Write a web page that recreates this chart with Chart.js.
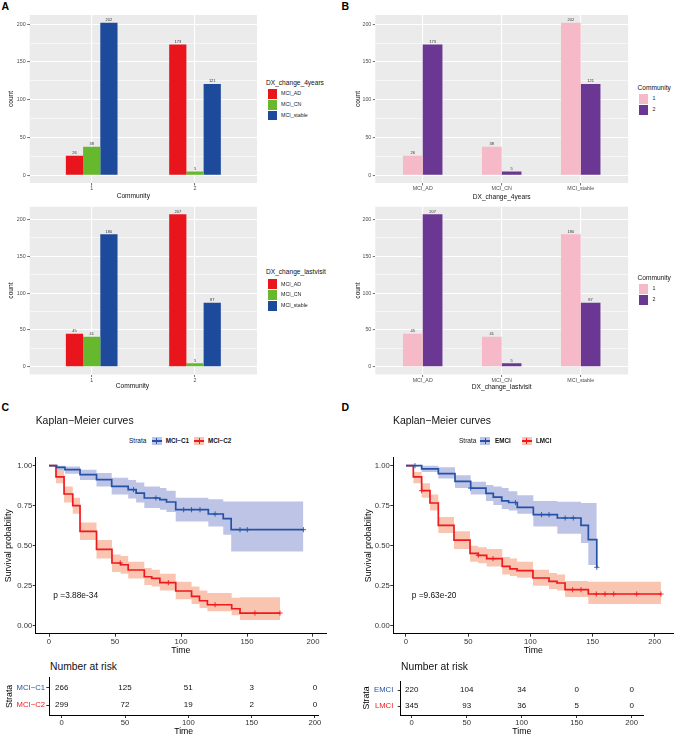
<!DOCTYPE html>
<html><head><meta charset="utf-8">
<script src="https://cdn.jsdelivr.net/npm/chart.js@4.4.0/dist/chart.umd.min.js"></script>
<style>
html,body{margin:0;padding:0;background:#fff;overflow:hidden;width:685px;height:736px;}
body{position:relative;font-family:"Liberation Sans",Arial,sans-serif;}
.t{position:absolute;white-space:nowrap;line-height:1;}
canvas{position:absolute;}
</style></head><body>
<script>
// ================= DATA =================
// Panel A/B : counts of conversion groups by community
const communities = ['1', '2'];
const dxGroups = ['MCI_AD', 'MCI_CN', 'MCI_stable'];
const dx4years_MCI_AD = [26, 173];
const dx4years_MCI_CN = [38, 5];
const dx4years_MCI_stable = [202, 121];
const dxLastvisit_MCI_AD = [45, 207];
const dxLastvisit_MCI_CN = [41, 5];
const dxLastvisit_MCI_stable = [180, 87];
const countTicks = [0, 50, 100, 150, 200];
const countMinorTicks = [25, 75, 125, 175];

// Panel C : Kaplan-Meier, MCI-C1 / MCI-C2
const kmC_C1_time  = [0, 5.8, 12.1, 23.5, 36, 47.5, 60, 66, 72.2, 84, 89, 96, 120.7, 132, 138, 192.7];
const kmC_C1_surv  = [1, 0.99, 0.975, 0.944, 0.9125, 0.871, 0.85, 0.829, 0.798, 0.7875, 0.773, 0.725, 0.698, 0.669, 0.60, 0.60];
const kmC_C1_upper = [1, 1.0, 0.995, 0.975, 0.955, 0.925, 0.91, 0.895, 0.87, 0.86, 0.844, 0.80, 0.79, 0.777, 0.777, 0.777];
const kmC_C1_lower = [1, 0.97, 0.95, 0.91, 0.87, 0.82, 0.795, 0.77, 0.735, 0.725, 0.71, 0.652, 0.62, 0.569, 0.464, 0.464];
const kmC_C1_censor = [64, 81, 102, 108, 114.4, 125.8, 144.7, 150.2, 192.7];
const kmC_C2_time  = [0, 5.3, 11.4, 18, 23.5, 36, 47.7, 54.3, 60, 72.2, 77.8, 84, 96, 108, 114, 120, 138.4, 144.7, 175];
const kmC_C2_surv  = [1, 0.93, 0.823, 0.75, 0.59, 0.477, 0.392, 0.381, 0.348, 0.306, 0.296, 0.269, 0.217, 0.183, 0.156, 0.131, 0.106, 0.079, 0.079];
const kmC_C2_upper = [1, 0.97, 0.87, 0.80, 0.645, 0.535, 0.445, 0.435, 0.40, 0.36, 0.35, 0.325, 0.275, 0.245, 0.22, 0.205, 0.175, 0.178, 0.178];
const kmC_C2_lower = [1, 0.89, 0.77, 0.70, 0.535, 0.42, 0.335, 0.325, 0.295, 0.255, 0.245, 0.22, 0.165, 0.135, 0.11, 0.09, 0.065, 0.035, 0.035];
const kmC_C2_censor = [54, 90.4, 125.8, 156, 175];

// Panel D : Kaplan-Meier, EMCI / LMCI
const kmD_E_time  = [0, 12.6, 26, 39.4, 52, 64.3, 70.2, 77, 82.5, 89.5, 102.4, 121.7, 140.7, 146.6, 153.4];
const kmD_E_surv  = [1, 0.98, 0.95, 0.902, 0.86, 0.827, 0.804, 0.78, 0.77, 0.74, 0.694, 0.673, 0.627, 0.5375, 0.365];
const kmD_E_upper = [1, 1.0, 0.99, 0.94, 0.90, 0.88, 0.87, 0.86, 0.84, 0.815, 0.78, 0.775, 0.767, 0.767, 0.767];
const kmD_E_lower = [1, 0.96, 0.92, 0.86, 0.82, 0.78, 0.755, 0.73, 0.72, 0.70, 0.62, 0.575, 0.517, 0.38, 0.38];
const kmD_E_censor = [7.2, 52, 88, 109, 115, 128, 134.5, 153.4];
const kmD_L_time  = [0, 5.9, 12.6, 19.3, 26, 38.6, 51.5, 58.1, 64.9, 77.4, 83.6, 89.3, 102.1, 115, 121.4, 127.9, 146.6, 205];
const kmD_L_surv  = [1, 0.93, 0.844, 0.767, 0.627, 0.535, 0.452, 0.44, 0.419, 0.371, 0.355, 0.344, 0.298, 0.277, 0.267, 0.225, 0.198, 0.198];
const kmD_L_upper = [1, 0.96, 0.89, 0.82, 0.68, 0.59, 0.50, 0.49, 0.48, 0.43, 0.42, 0.40, 0.35, 0.33, 0.32, 0.28, 0.275, 0.275];
const kmD_L_lower = [1, 0.89, 0.80, 0.72, 0.58, 0.48, 0.40, 0.39, 0.37, 0.32, 0.31, 0.30, 0.25, 0.23, 0.22, 0.18, 0.135, 0.135];
const kmD_L_censor = [12.6, 58.1, 70, 134, 140.7, 153, 160, 167, 185.5, 205];

const timeTicks = [0, 50, 100, 150, 200];
const survTicks = [0, 0.25, 0.5, 0.75, 1];

// Number at risk
const riskTimes = [0, 50, 100, 150, 200];
const riskC_C1 = [266, 125, 51, 3, 0];
const riskC_C2 = [299, 72, 19, 2, 0];
const riskD_EMCI = [220, 104, 34, 0, 0];
const riskD_LMCI = [345, 93, 36, 5, 0];

// ================= STYLE =================
const F = "'Liberation Sans', Arial, sans-serif";
Chart.defaults.font.family = F;
const dxColors = ['#E8161C', '#66B82C', '#1D4A9B'];
const commColors = ['#F6B9C8', '#6A3792'];
const blueLine = '#2452A8', redLine = '#F0191E';
const blueBand = 'rgba(68,85,180,0.35)', redBand = 'rgba(240,110,60,0.40)';

// ================= HELPERS =================
function mkCanvas(l, t, w, h) {
  const c = document.createElement('canvas');
  c.width = w; c.height = h;
  c.style.left = l + 'px'; c.style.top = t + 'px';
  c.style.width = w + 'px'; c.style.height = h + 'px';
  document.body.appendChild(c);
  return c;
}
function T(s, x, cy, size, o = {}) {
  const d = document.createElement('div');
  d.className = 't';
  d.textContent = s;
  d.style.fontSize = size + 'px';
  d.style.left = x + 'px';
  d.style.top = (cy - size * 0.5) + 'px';
  if (o.bold) d.style.fontWeight = 'bold';
  if (o.center) d.style.transform = 'translateX(-50%)';
  d.style.color = o.color || '#000';
  document.body.appendChild(d);
  return d;
}
function box(x, y, w, h, bg, extra) {
  const d = document.createElement('div');
  d.style.position = 'absolute';
  d.style.left = x + 'px'; d.style.top = y + 'px';
  d.style.width = w + 'px'; d.style.height = h + 'px';
  d.style.background = bg;
  if (extra) Object.assign(d.style, extra);
  document.body.appendChild(d);
  return d;
}

const panelBg = { id: 'panelBg', beforeDraw(ch) {
  const a = ch.chartArea, c = ch.ctx;
  c.save(); c.fillStyle = '#EBEBEB';
  c.fillRect(a.left, a.top, a.right - a.left, a.bottom - a.top);
  c.restore();
}};
const barLabels = { id: 'barLabels', afterDatasetsDraw(ch) {
  const c = ch.ctx;
  c.save(); c.font = '4px ' + F; c.fillStyle = '#333';
  c.textAlign = 'center'; c.textBaseline = 'bottom';
  ch.data.datasets.forEach((ds, i) => {
    ch.getDatasetMeta(i).data.forEach((el, j) => {
      c.fillText(String(ds.data[j].y), el.x, el.y - 0.6);
    });
  });
  c.restore();
}};

// xTitleCx: if given, axis title is placed as text at that centre x (matching reference offset)
function barChart(bx, area, xCats, series, colors, yMin, yMax, xTitle, yTitlePad, xTitleCx) {
  const c = mkCanvas(bx.l, bx.t, bx.w, bx.h);
  const yW = area.l - bx.l, padT = area.t - bx.t, padR = bx.l + bx.w - area.r, xH = bx.t + bx.h - area.b;
  const gridVals = countTicks.concat(countMinorTicks).sort((a, b) => a - b);
  const isMajor = v => countTicks.indexOf(v) >= 0;
  const useChartTitle = xTitleCx === undefined;
  if (!useChartTitle) T(xTitle, xTitleCx, bx.t + bx.h - 8.3, 6.6, { color: '#111', center: true });
  new Chart(c, {
    type: 'bar',
    data: { datasets: series.map((s, i) => ({
      label: s.name,
      data: s.values.map((v, j) => ({ x: j + 1, y: v })),
      backgroundColor: colors[i], borderWidth: 0
    })) },
    options: {
      responsive: false, animation: false, devicePixelRatio: 1,
      layout: { padding: { left: 0, top: padT, right: padR, bottom: 0 } },
      datasets: { bar: { categoryPercentage: 0.5, barPercentage: 1 } },
      plugins: { legend: { display: false }, tooltip: { enabled: false } },
      scales: {
        x: {
          type: 'linear', min: 0.4, max: xCats.length + 0.6, offset: false, bounds: 'data',
          afterBuildTicks: s => { s.ticks = xCats.map((cc, j) => ({ value: j + 1 })); },
          afterFit: s => { s.height = xH; },
          ticks: { autoSkip: false, maxRotation: 0, padding: 0, color: '#4D4D4D',
                   font: { size: 5.3 }, callback: v => xCats[Math.round(v) - 1] },
          grid: { offset: false, color: '#fff', lineWidth: 1.1, tickColor: '#333', tickLength: 2.5, tickWidth: 0.7 },
          border: { display: false },
          title: { display: useChartTitle, text: xTitle, color: '#111', font: { size: 6.6 }, padding: { top: 0, bottom: 3.5 } }
        },
        y: {
          min: yMin, max: yMax, bounds: 'data',
          afterBuildTicks: s => { s.ticks = gridVals.map(v => ({ value: v })); },
          afterFit: s => { s.width = yW; },
          ticks: { autoSkip: false, padding: 1.5, color: '#4D4D4D', font: { size: 5.3 },
                   callback: v => isMajor(v) ? String(v) : '' },
          grid: { color: '#fff',
                  lineWidth: ctx => (ctx.tick && isMajor(ctx.tick.value)) ? 1.1 : 0.55,
                  tickColor: ctx => (ctx.tick && isMajor(ctx.tick.value)) ? '#333' : 'rgba(0,0,0,0)',
                  tickLength: 2.5, tickWidth: 0.7 },
          border: { display: false },
          title: { display: true, text: 'count', color: '#111', font: { size: 6.6 }, padding: { top: yTitlePad, bottom: 0 } }
        }
      }
    },
    plugins: [panelBg, barLabels]
  });
}

function barLegend(x, titleCy, title, names, colors, firstKeyCy) {
  T(title, x, titleCy, 6.6, { color: '#111' });
  names.forEach((n, i) => {
    const cy = firstKeyCy + i * 10.7;
    box(x + 1.5, cy - 4.9, 9, 9.8, colors[i]);
    T(n, x + 15, cy, 5.3, { color: '#222' });
  });
}

function stepAt(time, surv, t) {
  let v = surv[0];
  for (let i = 0; i < time.length; i++) if (time[i] <= t) v = surv[i];
  return v;
}

function kmChart(bx, area, xMin, xMax, strata, yTitlePad) {
  const c = mkCanvas(bx.l, bx.t, bx.w, bx.h);
  const yW = area.l - bx.l, padT = area.t - bx.t, padR = bx.l + bx.w - area.r, xH = bx.t + bx.h - area.b;
  const ds = [];
  strata.forEach(s => {
    ds.push({ label: s.name + ' censored', order: 0, showLine: false,
      data: s.censor.map(t => ({ x: t, y: stepAt(s.time, s.surv, t) })),
      pointStyle: 'cross', pointRadius: 2.6, pointBorderWidth: 0.9,
      pointBorderColor: s.color, borderColor: s.color, backgroundColor: s.color });
    ds.push({ label: s.name, order: 1, stepped: 'before',
      data: s.time.map((t, i) => ({ x: t, y: s.surv[i] })),
      borderColor: s.color, borderWidth: 1.7, pointRadius: 0, fill: false });
  });
  strata.forEach(s => {
    ds.push({ label: s.name + ' upper', order: 2, stepped: 'before',
      data: s.time.map((t, i) => ({ x: t, y: s.upper[i] })),
      borderColor: 'rgba(0,0,0,0)', borderWidth: 0.1, pointRadius: 0, fill: false });
    ds.push({ label: s.name + ' lower', order: 2, stepped: 'before',
      data: s.time.map((t, i) => ({ x: t, y: s.lower[i] })),
      borderColor: 'rgba(0,0,0,0)', borderWidth: 0.1, pointRadius: 0, fill: '-1', backgroundColor: s.band });
  });
  new Chart(c, {
    type: 'line',
    data: { datasets: ds },
    options: {
      responsive: false, animation: false, devicePixelRatio: 1,
      layout: { padding: { left: 0, top: padT, right: padR, bottom: 0 } },
      plugins: { legend: { display: false }, tooltip: { enabled: false } },
      scales: {
        x: { type: 'linear', min: xMin, max: xMax, bounds: 'data',
          afterBuildTicks: s => { s.ticks = timeTicks.map(v => ({ value: v })); },
          afterFit: s => { s.height = xH; },
          ticks: { autoSkip: false, maxRotation: 0, padding: 0.5, color: '#333', font: { size: 7.7 } },
          grid: { drawOnChartArea: false, drawTicks: true, tickLength: 3, color: '#333', tickWidth: 1 },
          border: { display: true, color: '#000', width: 1 },
          title: { display: true, text: 'Time', color: '#000', font: { size: 8.7 }, padding: { top: 0, bottom: 2.1 } }
        },
        y: { min: -0.05, max: 1.05, bounds: 'data',
          afterBuildTicks: s => { s.ticks = survTicks.map(v => ({ value: v })); },
          afterFit: s => { s.width = yW; },
          ticks: { autoSkip: false, padding: 0.5, color: '#333', font: { size: 7.7 }, callback: v => Number(v).toFixed(2) },
          grid: { drawOnChartArea: false, drawTicks: true, tickLength: 3, color: '#333', tickWidth: 1 },
          border: { display: true, color: '#000', width: 1 },
          title: { display: true, text: 'Survival probability', color: '#000', font: { size: 8.7 }, padding: { top: yTitlePad, bottom: 0 } }
        }
      }
    }
  });
}

const riskNumbers = { id: 'riskNumbers', afterDatasetsDraw(ch) {
  const c = ch.ctx;
  c.save(); c.font = '8px ' + F; c.fillStyle = '#111';
  c.textAlign = 'center'; c.textBaseline = 'middle';
  ch.data.datasets.forEach((ds, i) => {
    ch.getDatasetMeta(i).data.forEach((el, j) => { c.fillText(String(ds.data[j].n), el.x, el.y); });
  });
  c.restore();
}};

function riskChart(bx, area, xMin, xMax, names, colors, counts, yTitlePad, yTickPad) {
  const c = mkCanvas(bx.l, bx.t, bx.w, bx.h);
  const yW = area.l - bx.l, padT = area.t - bx.t, padR = bx.l + bx.w - area.r, xH = bx.t + bx.h - area.b;
  const n = names.length;
  new Chart(c, {
    type: 'scatter',
    data: { datasets: counts.map((arr, i) => ({
      label: names[i], pointRadius: 0, showLine: false,
      data: riskTimes.map((t, j) => ({ x: t, y: n - i, n: arr[j] }))
    })) },
    options: {
      responsive: false, animation: false, devicePixelRatio: 1,
      layout: { padding: { left: 0, top: padT, right: padR, bottom: 0 } },
      plugins: { legend: { display: false }, tooltip: { enabled: false } },
      scales: {
        x: { type: 'linear', min: xMin, max: xMax, bounds: 'data',
          afterBuildTicks: s => { s.ticks = riskTimes.map(v => ({ value: v })); },
          afterFit: s => { s.height = xH; },
          ticks: { autoSkip: false, maxRotation: 0, padding: 0, color: '#333', font: { size: 7.7 } },
          grid: { drawOnChartArea: false, drawTicks: true, tickLength: 3, color: '#333', tickWidth: 1 },
          border: { display: true, color: '#000', width: 1 },
          title: { display: true, text: 'Time', color: '#000', font: { size: 8.7 }, padding: { top: 0, bottom: 1.1 } }
        },
        y: { type: 'linear', min: 0.435, max: 2.58, bounds: 'data',
          afterBuildTicks: s => { s.ticks = names.map((nm, i) => ({ value: n - i })); },
          afterFit: s => { s.width = yW; },
          ticks: { autoSkip: false, padding: yTickPad, font: { size: 7.7 },
                   color: ctx => colors[n - ctx.tick.value],
                   callback: v => names[n - v] },
          grid: { drawOnChartArea: false, drawTicks: true, tickLength: 3, color: '#333', tickWidth: 1 },
          border: { display: true, color: '#000', width: 1 },
          title: { display: true, text: 'Strata', color: '#000', font: { size: 8.7 }, padding: { top: yTitlePad, bottom: 0 } }
        }
      }
    },
    plugins: [riskNumbers]
  });
}

function kmLegend(x0, cy, items) {
  T('Strata', x0, cy, 6.5, { color: '#111' });
  items.forEach(it => {
    box(it.kx, cy - 4, 10, 8, it.band);
    box(it.kx, cy - 0.8, 10, 1.7, it.color);
    box(it.kx + 4.6, cy - 2.6, 0.9, 5.2, it.color);
    T(it.name, it.lx, cy, 6.3, { bold: true, color: '#111' });
  });
}

// ================= PANELS =================
// Panel letters
T('A', 1.5, 6, 10.5, { bold: true });
T('B', 341.5, 6.5, 10.5, { bold: true });
T('C', 1.5, 407.5, 10.5, { bold: true });
T('D', 341.5, 407.5, 10.5, { bold: true });

// A top: DX_change_4years by Community
barChart({ l: 0, t: 0, w: 262, h: 205 }, { l: 29.7, t: 15, r: 257, b: 183 }, communities,
  [{ name: dxGroups[0], values: dx4years_MCI_AD }, { name: dxGroups[1], values: dx4years_MCI_CN }, { name: dxGroups[2], values: dx4years_MCI_stable }],
  dxColors, -10.1, 212.1, 'Community', 7.7, 133.3);
barLegend(266, 83, 'DX_change_4years', dxGroups, dxColors, 94);

// A bottom: DX_change_lastvisit by Community
barChart({ l: 0, t: 195, w: 262, h: 200 }, { l: 29.7, t: 206.7, r: 257, b: 374.5 }, communities,
  [{ name: dxGroups[0], values: dxLastvisit_MCI_AD }, { name: dxGroups[1], values: dxLastvisit_MCI_CN }, { name: dxGroups[2], values: dxLastvisit_MCI_stable }],
  dxColors, -10.35, 217.35, 'Community', 7.7, 132.5);
barLegend(266, 272.7, 'DX_change_lastvisit', dxGroups, dxColors, 284.3);

// B top: Community by DX_change_4years
barChart({ l: 340, t: 0, w: 295, h: 205 }, { l: 375.3, t: 15, r: 628.1, b: 183 }, dxGroups,
  [{ name: communities[0], values: [dx4years_MCI_AD[0], dx4years_MCI_CN[0], dx4years_MCI_stable[0]] },
   { name: communities[1], values: [dx4years_MCI_AD[1], dx4years_MCI_CN[1], dx4years_MCI_stable[1]] }],
  commColors, -10.1, 212.1, 'DX_change_4years', 14);
barLegend(637.5, 88.3, 'Community', communities, commColors, 99);

// B bottom: Community by DX_change_lastvisit
barChart({ l: 340, t: 195, w: 295, h: 200 }, { l: 375.3, t: 206.7, r: 628.1, b: 374.5 }, dxGroups,
  [{ name: communities[0], values: [dxLastvisit_MCI_AD[0], dxLastvisit_MCI_CN[0], dxLastvisit_MCI_stable[0]] },
   { name: communities[1], values: [dxLastvisit_MCI_AD[1], dxLastvisit_MCI_CN[1], dxLastvisit_MCI_stable[1]] }],
  commColors, -10.35, 217.35, 'DX_change_lastvisit', 14);
barLegend(637.5, 278.3, 'Community', communities, commColors, 289);

// C : Kaplan-Meier MCI-C1 / MCI-C2
T('Kaplan\u2212Meier curves', 35.7, 421, 10.4, { color: '#111' });
kmLegend(129, 441, [
  { kx: 151.7, lx: 165.7, name: 'MCI\u2212C1', color: blueLine, band: blueBand },
  { kx: 194, lx: 208, name: 'MCI\u2212C2', color: redLine, band: redBand }]);
kmChart({ l: 0, t: 448, w: 335, h: 210 }, { l: 35.7, t: 457.7, r: 326, b: 633.7 }, -10.08, 209.85, [
  { name: 'MCI-C1', time: kmC_C1_time, surv: kmC_C1_surv, upper: kmC_C1_upper, lower: kmC_C1_lower, censor: kmC_C1_censor, color: blueLine, band: blueBand },
  { name: 'MCI-C2', time: kmC_C2_time, surv: kmC_C2_surv, upper: kmC_C2_upper, lower: kmC_C2_lower, censor: kmC_C2_censor, color: redLine, band: redBand }], 3.8);
T('p =3.88e-34', 53.3, 595, 8.35, { color: '#111' });
T('Number at risk', 50, 667.3, 10.3, { color: '#111' });
riskChart({ l: 0, t: 672, w: 335, h: 66 }, { l: 49.3, t: 677, r: 318, b: 715 }, -9.8, 202.45,
  ['MCI\u2212C1', 'MCI\u2212C2'], [blueLine, redLine], [riskC_C1, riskC_C2], 4.8, 1.3);

// D : Kaplan-Meier EMCI / LMCI
T('Kaplan\u2212Meier curves', 393, 421, 10.4, { color: '#111' });
kmLegend(459, 441, [
  { kx: 480, lx: 495, name: 'EMCI', color: blueLine, band: blueBand },
  { kx: 521.7, lx: 536, name: 'LMCI', color: redLine, band: redBand }]);
kmChart({ l: 340, t: 448, w: 345, h: 210 }, { l: 393.3, t: 457.7, r: 673.4, b: 633.7 }, -10.2, 215, [
  { name: 'EMCI', time: kmD_E_time, surv: kmD_E_surv, upper: kmD_E_upper, lower: kmD_E_lower, censor: kmD_E_censor, color: blueLine, band: blueBand },
  { name: 'LMCI', time: kmD_L_time, surv: kmD_L_surv, upper: kmD_L_upper, lower: kmD_L_lower, censor: kmD_L_censor, color: redLine, band: redBand }], 23.1);
T('p =9.63e-20', 411.7, 595, 8.35, { color: '#111' });
T('Number at risk', 401, 667.3, 10.3, { color: '#111' });
riskChart({ l: 340, t: 672, w: 345, h: 66 }, { l: 400.7, t: 677, r: 643, b: 715 }, -10, 210.3,
  ['EMCI', 'LMCI'], [blueLine, redLine], [riskD_EMCI, riskD_LMCI], 21.5, 4.4);
</script>
</body></html>
